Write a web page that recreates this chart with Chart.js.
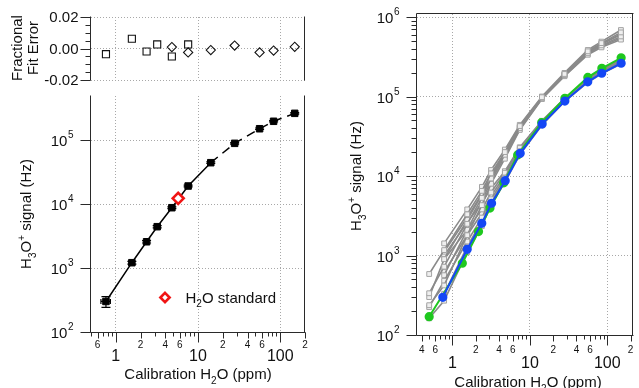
<!DOCTYPE html>
<html><head><meta charset="utf-8">
<script src="https://cdn.jsdelivr.net/npm/chart.js@4.4.0/dist/chart.umd.min.js"></script>
<style>
html,body{margin:0;padding:0;background:#fff;width:639px;height:388px;overflow:hidden}
canvas{position:absolute;left:0;top:0}
</style></head><body>
<canvas id="cRes" width="639" height="388"></canvas>
<canvas id="cMain" width="639" height="388"></canvas>
<canvas id="cRight" width="639" height="388"></canvas>
<script>
// ---------------- DATA ----------------
// Left panel: calibration points (ppm, Hz)
const calX = [0.76, 1.57, 2.37, 3.19, 4.81, 7.59, 14.3, 27.9, 56.1, 83, 150];
const calY = [300, 1210, 2570, 4420, 8750, 19100, 44200, 88700, 150000, 196000, 261000];
const calErrX = [0.1, 0.05, 0.06, 0.08, 0.1, 0.15, 0.3, 0.5, 1, 1.5, 2.5];
const calErrY = [58, 60, 110, 170, 300, 600, 1300, 2500, 4000, 5000, 7000];
const fitSolidCount = 7;           // fit drawn solid through the first 7 points, dashed after
const stdX = [5.74];
const stdY = [12270];
// Residuals
const resSqX = [0.76, 1.57, 2.37, 3.19, 4.81, 7.59];
const resSqY = [-0.0036, 0.0062, -0.0019, 0.0026, -0.0051, 0.0026];
const resDiX = [4.81, 7.59, 14.3, 27.9, 56.1, 83, 150];
const resDiY = [0.0009, -0.0025, -0.0010, 0.0019, -0.0025, -0.0013, 0.0011];
// Right panel
const blueX = [0.75, 1.55, 2.39, 3.2, 4.8, 7.5, 14.4, 28.3, 55.9, 84.7, 151];
const blueY = [298, 1197, 2540, 4540, 8730, 19300, 45000, 87700, 153000, 196000, 262000];
const greenX = [0.5, 1.34, 2.17, 3.05, 4.6, 6.95, 14.2, 28.3, 56, 85, 151];
const greenY = [170, 800, 2000, 3950, 8200, 18400, 47000, 95000, 174000, 226000, 307000];
const grayXa = [0.5, 0.78, 1.55, 2.4, 3.15, 4.75, 7.4, 14.3, 28, 56, 84, 150];
const grayXb = [0.78, 1.55, 2.4, 3.15, 4.75, 7.4, 14.3, 28, 56, 84, 150];
const grayA1 = [585, 1170, 3300, 6500, 10800, 20000, 42500, 98000, 192000, 370000, 470000, 640000];
const grayA2 = [335, 723, 2500, 5300, 9300, 18500, 40000, 95000, 186000, 350000, 440000, 570000];
const grayA3 = [237, 420, 1800, 4300, 8000, 16500, 38000, 93000, 180000, 335000, 415000, 520000];
const grayA4 = [224, 480, 1500, 3000, 5100, 9500, 20500, 47000, 92000, 160000, 208000, 280000];
const grayA5 = [162, 270, 1100, 2350, 4300, 8300, 18500, 43500, 86000, 150000, 193000, 256000];
const grayA6 = [300, 900, 2800, 5800, 9800, 19000, 41000, 97000, 190000, 365000, 460000, 600000];
const grayB1 = [1420, 3800, 7300, 11900, 21500, 44000, 100000, 198000, 385000, 490000, 686000];
const grayB2 = [1116, 3000, 6000, 10000, 19500, 41000, 96000, 188000, 360000, 455000, 610000];
const grayB3 = [565, 2100, 4800, 8700, 17500, 39000, 94000, 183000, 345000, 430000, 545000];
const grayB4 = [900, 2100, 3800, 6200, 11000, 22500, 49000, 94000, 165000, 215000, 290000];
const grayB5 = [620, 1800, 3400, 5600, 10200, 21500, 48000, 93000, 163000, 212000, 285000];
const grayB6 = [330, 1300, 2700, 4700, 9000, 19800, 46000, 90000, 157000, 203000, 272000];
const grayB7 = [1000, 2600, 4600, 7000, 11500, 23000, 49500, 95000, 167000, 218000, 295000];
// Ticks
const leftXMajor = [1, 10, 100];
const leftXMinor = [0.5,0.6,0.7,0.8,0.9,2,3,4,5,6,7,8,9,20,30,40,50,60,70,80,90,200];
const leftXMinorLabeled = [0.6, 2, 4, 6, 20, 40, 60, 200];
const leftYMajor = [100, 1000, 10000, 100000];
const resYMajor = [-0.02, 0, 0.02];
const resYMinor = [-0.015, -0.01, -0.005, 0.005, 0.01, 0.015];
const rightXMajor = [1, 10, 100];
const rightXMinor = [0.4,0.5,0.6,0.7,0.8,0.9,2,3,4,5,6,7,8,9,20,30,40,50,60,70,80,90,200];
const rightXMinorLabeled = [0.4, 0.6, 2, 4, 6, 20, 40, 60, 200];
const rightYMajor = [100, 1000, 10000, 100000, 1000000];
const rightYMinor = [200,300,400,500,600,700,800,900,2000,3000,4000,5000,6000,7000,8000,9000,
  20000,30000,40000,50000,60000,70000,80000,90000,200000,300000,400000,500000,600000,700000,800000,900000];

// ---------------- STYLE / HELPERS ----------------
const FONT = '"Liberation Sans", Arial, sans-serif';
const AXIS = '#2a2a2a', TEXT = '#111', GRID = '#a8a8a8';
const pts = (xs, ys) => xs.map((x, i) => ({x, y: ys[i]}));

function drawRich(ctx, parts, x, y, size, align) {
  const sz = m => m ? Math.round(size * 0.68) : size;
  const widths = []; let total = 0;
  parts.forEach(([t, m]) => { ctx.font = sz(m) + 'px ' + FONT; const w = ctx.measureText(t).width; widths.push(w); total += w; });
  let cx = align === 'center' ? x - total / 2 : align === 'right' ? x - total : x;
  ctx.textAlign = 'left'; ctx.textBaseline = 'alphabetic';
  parts.forEach(([t, m], i) => {
    ctx.font = sz(m) + 'px ' + FONT;
    const dy = m === 'sub' ? size * 0.3 : m === 'sup' ? -size * 0.42 : 0;
    ctx.fillText(t, cx, y + dy); cx += widths[i];
  });
}
function drawRotRich(ctx, parts, cx, cy, size) {
  ctx.save(); ctx.translate(cx, cy); ctx.rotate(-Math.PI / 2);
  drawRich(ctx, parts, 0, size * 0.36, size, 'center'); ctx.restore();
}
const digitOf = v => String(Math.round(v / Math.pow(10, Math.floor(Math.log10(v) + 1e-9))));

function axesPlugin(sp) {
  return {
    id: 'axes' + sp.name,
    afterDraw(chart) {
      const ctx = chart.ctx, a = chart.chartArea, xs = chart.scales.x, ys = chart.scales.y;
      const L = a.left - 0.5, R = a.right - 0.5, T = a.top - 0.5, B = a.bottom + 0.5;
      const py = v => Math.round(ys.getPixelForValue(v)) + 0.5;
      const px = v => Math.round(xs.getPixelForValue(v)) + 0.5;
      ctx.save();
      ctx.strokeStyle = AXIS; ctx.lineWidth = 1; ctx.fillStyle = TEXT;
      ctx.beginPath();
      if (sp.frame.includes('L')) { ctx.moveTo(L, T); ctx.lineTo(L, B); }
      if (sp.frame.includes('R')) { ctx.moveTo(R, T); ctx.lineTo(R, B); }
      if (sp.frame.includes('B')) { ctx.moveTo(L, B); ctx.lineTo(R + 1, B); }
      if (sp.frame.includes('T')) { ctx.moveTo(L, T); ctx.lineTo(R + 1, T); }
      (sp.yMajor || []).forEach(v => { ctx.moveTo(L, py(v)); ctx.lineTo(L - 10, py(v)); });
      (sp.yMinor || []).forEach(v => { ctx.moveTo(L, py(v)); ctx.lineTo(L - 5, py(v)); });
      if (sp.xMajor) {
        sp.xMajor.forEach(v => { ctx.moveTo(px(v), B); ctx.lineTo(px(v), B + 10); });
        sp.xMinor.forEach(v => { const len = sp.xMinorLabeled.includes(v) ? 6 : 4; ctx.moveTo(px(v), B); ctx.lineTo(px(v), B + len); });
      }
      ctx.stroke();
      // y labels
      (sp.yMajor || []).forEach(v => {
        const y = ys.getPixelForValue(v);
        if (sp.yLog) {
          const e = String(Math.round(Math.log10(v)));
          ctx.font = '10px ' + FONT; const ew = ctx.measureText(e).width;
          ctx.textAlign = 'right'; ctx.textBaseline = 'alphabetic';
          ctx.fillText(e, L - 17, y - 2);
          ctx.font = '15px ' + FONT;
          ctx.fillText('10', L - 17 - ew - 0.5, y + 6);
        } else {
          ctx.font = '15px ' + FONT; ctx.textAlign = 'right'; ctx.textBaseline = 'middle';
          ctx.fillText(v.toFixed(2), L - 12, y + 1);
        }
      });
      // x labels
      if (sp.xMajor) {
        ctx.textAlign = 'center'; ctx.textBaseline = 'alphabetic';
        ctx.font = '16px ' + FONT;
        sp.xMajor.forEach(v => ctx.fillText(String(v), xs.getPixelForValue(v), B + sp.xMajDy));
        ctx.font = '10px ' + FONT;
        sp.xMinorLabeled.forEach(v => ctx.fillText(digitOf(v), xs.getPixelForValue(v), B + sp.xMinDy));
      }
      if (sp.xTitle) drawRich(ctx, sp.xTitle.parts, sp.xTitle.x, sp.xTitle.y, 15, 'center');
      if (sp.yTitle) sp.yTitle.forEach(t => drawRotRich(ctx, t.parts, t.x, t.y, 15));
      if (sp.extra) sp.extra(ctx, chart);
      ctx.restore();
    }
  };
}

function logAxis(min, max, majors) {
  return {
    type: 'logarithmic', min, max, bounds: 'data',
    afterBuildTicks: s => { s.ticks = majors.map(v => ({value: v})); },
    ticks: {display: false},
    grid: {drawTicks: false, color: GRID, lineWidth: 1},
    border: {display: false, dash: [1, 2]}
  };
}
function baseOptions(padding, xAxis, yAxis) {
  return {
    responsive: false, animation: false, devicePixelRatio: 1,
    layout: {padding},
    plugins: {legend: {display: false}, tooltip: {enabled: false}},
    scales: {x: xAxis, y: yAxis}
  };
}

const X_TITLE = [['Calibration H'], ['2', 'sub'], ['O (ppm)']];
const Y_TITLE = [['H'], ['3', 'sub'], ['O'], ['+', 'sup'], [' signal (Hz)']];

// ---------------- RESIDUAL PLOT ----------------
new Chart(document.getElementById('cRes'), {
  type: 'scatter',
  data: {datasets: [
    {data: pts(resSqX, resSqY), pointStyle: 'rect', pointRadius: 5, borderColor: '#111', backgroundColor: 'rgba(0,0,0,0)', pointBorderWidth: 1.1},
    {data: pts(resDiX, resDiY), pointStyle: 'rectRot', pointRadius: 4.6, borderColor: '#111', backgroundColor: 'rgba(0,0,0,0)', pointBorderWidth: 1.1}
  ]},
  options: baseOptions({left: 91, right: 334, top: 17, bottom: 308},
    logAxis(0.5, 200, leftXMajor),
    {type: 'linear', min: -0.02, max: 0.02, bounds: 'data',
     afterBuildTicks: s => { s.ticks = resYMajor.map(v => ({value: v})); },
     ticks: {display: false}, grid: {drawTicks: false, color: GRID}, border: {display: false, dash: [1, 2]}}),
  plugins: [axesPlugin({name: 'res', frame: ['L', 'R'], yMajor: resYMajor, yMinor: resYMinor,
    yTitle: [{parts: [['Fractional']], x: 17, y: 48}, {parts: [['Fit Error']], x: 33, y: 48}]})]
});

// ---------------- MAIN LEFT PLOT ----------------
const errorBarPlugin = {
  id: 'errbars',
  afterDatasetsDraw(chart) {
    const ctx = chart.ctx, xs = chart.scales.x, ys = chart.scales.y;
    ctx.save(); ctx.strokeStyle = '#000'; ctx.lineWidth = 1.2; ctx.beginPath();
    calX.forEach((x, i) => {
      const cx = xs.getPixelForValue(x), cy = ys.getPixelForValue(calY[i]);
      const y1 = ys.getPixelForValue(calY[i] + calErrY[i]), y2 = ys.getPixelForValue(calY[i] - calErrY[i]);
      const x1 = xs.getPixelForValue(x - calErrX[i]), x2 = xs.getPixelForValue(x + calErrX[i]);
      ctx.moveTo(cx, y1); ctx.lineTo(cx, y2);
      ctx.moveTo(cx - 4.5, y1); ctx.lineTo(cx + 4.5, y1);
      ctx.moveTo(cx - 4.5, y2); ctx.lineTo(cx + 4.5, y2);
      ctx.moveTo(x1, cy); ctx.lineTo(x2, cy);
      ctx.moveTo(x1, cy - 2.5); ctx.lineTo(x1, cy + 2.5);
      ctx.moveTo(x2, cy - 2.5); ctx.lineTo(x2, cy + 2.5);
    });
    ctx.stroke(); ctx.restore();
  }
};
new Chart(document.getElementById('cMain'), {
  type: 'scatter',
  data: {datasets: [
    {data: pts(stdX, stdY), pointStyle: 'rectRot', pointRadius: 5.5, borderColor: '#f01414', backgroundColor: '#fff', pointBorderWidth: 2.6, order: 0},
    {data: pts(calX, calY), pointStyle: 'rect', pointRadius: 4.6, borderColor: '#000', backgroundColor: '#000', order: 1},
    {data: pts(calX.slice(0, fitSolidCount), calY.slice(0, fitSolidCount)), showLine: true, pointRadius: 0, borderColor: '#000', borderWidth: 1.5, order: 2},
    {data: pts(calX.slice(fitSolidCount - 1), calY.slice(fitSolidCount - 1)), showLine: true, pointRadius: 0, borderColor: '#000', borderWidth: 1.5, borderDash: [9, 6], order: 3}
  ]},
  options: baseOptions({left: 91, right: 334, top: 96, bottom: 56},
    logAxis(0.5, 200, leftXMajor), logAxis(100, 487000, leftYMajor)),
  plugins: [errorBarPlugin, axesPlugin({name: 'main', frame: ['L', 'R', 'B'], yLog: true, yMajor: leftYMajor,
    xMajor: leftXMajor, xMinor: leftXMinor, xMinorLabeled: leftXMinorLabeled, xMajDy: 28.5, xMinDy: 15,
    xTitle: {parts: X_TITLE, x: 198, y: 379}, yTitle: [{parts: Y_TITLE, x: 26, y: 214}],
    extra: (ctx) => {
      // legend
      const lx = 165, ly = 297.5, r = 4.6;
      ctx.save(); ctx.strokeStyle = '#f01414'; ctx.lineWidth = 2.6; ctx.fillStyle = '#fff';
      ctx.beginPath(); ctx.moveTo(lx, ly - r); ctx.lineTo(lx + r, ly); ctx.lineTo(lx, ly + r); ctx.lineTo(lx - r, ly); ctx.closePath();
      ctx.fill(); ctx.stroke(); ctx.restore();
      ctx.fillStyle = TEXT;
      drawRich(ctx, [['H'], ['2', 'sub'], ['O standard']], 185.5, 302.7, 15, 'left');
    }})]
});

// ---------------- RIGHT PLOT ----------------
const grayStyle = {showLine: true, borderColor: '#8a8a8a', borderWidth: 1.6, pointStyle: 'rect', pointRadius: 3.4,
  pointBorderColor: '#a4a4a4', pointBackgroundColor: '#efefef', pointBorderWidth: 1, order: 2};
const graySets = [
  [grayXa, grayA1], [grayXa, grayA2], [grayXa, grayA3], [grayXa, grayA4], [grayXa, grayA5], [grayXa, grayA6],
  [grayXb, grayB1], [grayXb, grayB2], [grayXb, grayB3], [grayXb, grayB4], [grayXb, grayB5], [grayXb, grayB6], [grayXb, grayB7]
].map(([xs, ys]) => Object.assign({data: pts(xs, ys)}, grayStyle));
new Chart(document.getElementById('cRight'), {
  type: 'scatter',
  data: {datasets: [
    {data: pts(blueX, blueY), showLine: true, borderColor: '#1447f5', backgroundColor: '#1447f5', borderWidth: 2, pointRadius: 3.6, order: 0},
    {data: pts(greenX, greenY), showLine: true, borderColor: '#1fc81f', backgroundColor: '#1fc81f', borderWidth: 2, pointRadius: 3.6, order: 1}
  ].concat(graySets)},
  options: baseOptions({left: 417, right: 1, top: 14, bottom: 53},
    logAxis(0.348, 214.8, rightXMajor), logAxis(100, 1091000, rightYMajor)),
  plugins: [axesPlugin({name: 'right', frame: ['L', 'R', 'B', 'T'], yLog: true, yMajor: rightYMajor, yMinor: rightYMinor,
    xMajor: rightXMajor, xMinor: rightXMinor, xMinorLabeled: rightXMinorLabeled, xMajDy: 32, xMinDy: 17,
    xTitle: {parts: X_TITLE, x: 528, y: 387}, yTitle: [{parts: Y_TITLE, x: 356, y: 176}]})]
});
</script></body></html>
